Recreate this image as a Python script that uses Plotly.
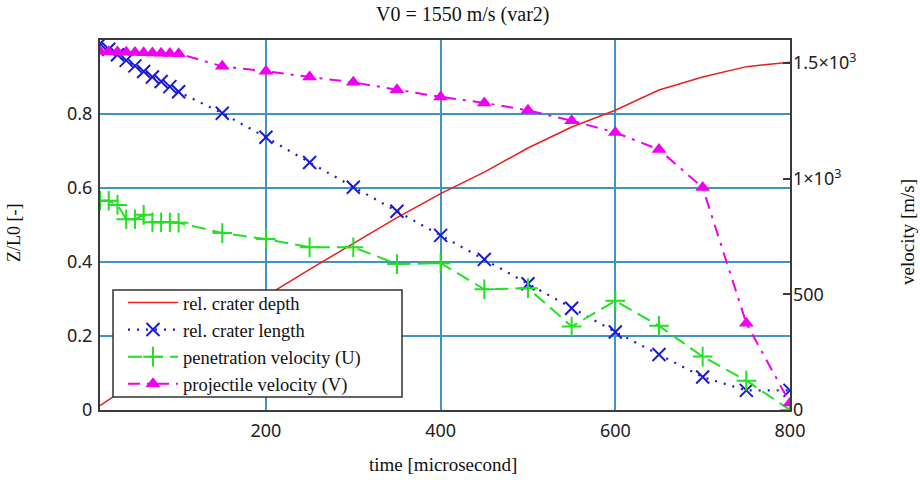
import plotly.graph_objects as go

# ---- data ----
time_us = [10, 20, 30, 40, 50, 60, 70, 80, 90, 100,
           150, 200, 250, 300, 350, 400, 450, 500, 550, 600, 650, 700, 750, 800]

rel_crater_depth = [0.012, 0.028, 0.044, 0.060, 0.076, 0.092, 0.107, 0.123, 0.138, 0.153,
                    0.230, 0.308, 0.380, 0.450, 0.520, 0.585, 0.643, 0.708, 0.765, 0.810,
                    0.865, 0.900, 0.928, 0.940]

rel_crater_length = [0.990, 0.975, 0.960, 0.945, 0.930, 0.915, 0.900, 0.888, 0.874, 0.860,
                     0.802, 0.737, 0.669, 0.602, 0.537, 0.472, 0.407, 0.341, 0.275, 0.211,
                     0.150, 0.089, 0.053, 0.053]

penetration_velocity = [905, 905, 887, 825, 825, 844, 812, 812, 812, 810,
                        765, 739, 704, 704, 631, 635, 522, 527, 361, 472,
                        364, 231, 127, 0]

projectile_velocity = [1550, 1549, 1548, 1547, 1546, 1545, 1544, 1543, 1542, 1541,
                       1486, 1465, 1440, 1417, 1385, 1354, 1328, 1296, 1251, 1200,
                       1126, 962, 375, 30]

x_ticks = [200, 400, 600, 800]
left_ticks = [0, 0.2, 0.4, 0.6, 0.8]
left_tick_text = ["0", "0.2", "0.4", "0.6", "0.8"]
right_ticks = [0, 500, 1000, 1500]
right_tick_text = ["0", "500", "1×10<sup>3</sup>", "1.5×10<sup>3</sup>"]

title_text = "V0 = 1550 m/s (var2)"
x_title = "time [microsecond]"
y_title = "Z/L0 [-]"
y2_title = "velocity [m/s]"

names = ["rel. crater depth", "rel. crater length",
         "penetration velocity (U)", "projectile velocity (V)"]

# ---- figure ----
W, H = 920, 480
ML, MR, MT, MB = 100, 130, 40, 70
PW, PH = W - ML - MR, H - MT - MB


def px_x(p):
    return (p - ML) / PW


def px_y(p):
    return (H - MB - p) / PH


fig = go.Figure()

fig.add_trace(go.Scatter(x=time_us, y=rel_crater_depth, name=names[0], mode="lines",
                         line=dict(color="#e8201c", width=1.5)))
fig.add_trace(go.Scatter(x=time_us, y=rel_crater_length, name=names[1], mode="lines+markers",
                         line=dict(color="#1a1ad6", width=2.2, dash="2px,7px"),
                         marker=dict(symbol="x-thin", size=13, color="#1a1ad6",
                                     line=dict(color="#1a1ad6", width=2))))
fig.add_trace(go.Scatter(x=time_us, y=penetration_velocity, name=names[2], mode="lines+markers",
                         yaxis="y2",
                         line=dict(color="#22e022", width=2, dash="14px,7px"),
                         marker=dict(symbol="cross-thin", size=14, color="#22e022",
                                     line=dict(color="#22e022", width=2))))
fig.add_trace(go.Scatter(x=time_us, y=projectile_velocity, name=names[3], mode="lines+markers",
                         yaxis="y2",
                         line=dict(color="#f000f0", width=2, dash="12px,7px,3px,7px"),
                         marker=dict(symbol="triangle-up", size=13, color="#f000f0")))

grid_col = "#3f93c6"
axis_col = "#3a3a3a"
tick_font = dict(family="Noto Sans, Open Sans, sans-serif", size=18, color="#222222")
serif = "Liberation Serif, Times New Roman, serif"
txt = "#111111"

fig.update_layout(
    width=W, height=H,
    margin=dict(l=ML, r=MR, t=MT, b=MB, autoexpand=False),
    paper_bgcolor="white", plot_bgcolor="white",
    showlegend=True,
    legend=dict(x=px_x(123), y=px_y(284), xanchor="left", yanchor="top",
                bgcolor="rgba(0,0,0,0)", borderwidth=0,
                font=dict(family=serif, size=18.5, color=txt),
                tracegroupgap=0, itemwidth=50),
    xaxis=dict(range=[10, 800], tickvals=x_ticks, showgrid=True, gridcolor=grid_col, gridwidth=1.5,
               zeroline=False, showline=True, linecolor=axis_col, linewidth=2, mirror=True,
               ticks="", tickfont=tick_font, ticklabelstandoff=3),
    yaxis=dict(range=[0, 1.0], tickvals=left_ticks, ticktext=left_tick_text,
               showgrid=True, gridcolor=grid_col, gridwidth=1.5,
               zeroline=False, showline=True, linecolor=axis_col, linewidth=2, mirror=True,
               ticks="", tickfont=tick_font, ticklabelstandoff=2),
    yaxis2=dict(range=[0, 1600], tickvals=right_ticks, ticktext=right_tick_text,
                overlaying="y", side="right", showgrid=False, zeroline=False,
                ticks="inside", ticklen=7, tickcolor=axis_col, tickwidth=1.5,
                showline=False, tickfont=tick_font, ticklabelstandoff=2),
    shapes=[
        dict(type="rect", xref="paper", yref="paper", layer="above",
             x0=px_x(113), x1=px_x(402), y0=px_y(397), y1=px_y(290),
             fillcolor="white", line=dict(color="#333333", width=1.5)),
    ],
    annotations=[
        dict(text=title_text, xref="paper", yref="paper", x=px_x(462), y=px_y(14),
             xanchor="center", yanchor="middle",
             showarrow=False, font=dict(family=serif, size=20, color=txt)),
        dict(text=x_title, xref="paper", yref="paper", x=px_x(443), y=px_y(464),
             xanchor="center", yanchor="middle",
             showarrow=False, font=dict(family=serif, size=19, color=txt)),
        dict(text=y_title, xref="paper", yref="paper", x=px_x(14), y=px_y(233),
             xanchor="center", yanchor="middle", textangle=-90,
             showarrow=False, font=dict(family=serif, size=18, color=txt)),
        dict(text=y2_title, xref="paper", yref="paper", x=px_x(907), y=px_y(232),
             xanchor="center", yanchor="middle", textangle=-90,
             showarrow=False, font=dict(family=serif, size=19, color=txt)),
    ],
)

fig.write_html("out.html", config={"displayModeBar": False},
               post_script="document.body.style.margin='0';document.body.style.overflow='hidden';")
